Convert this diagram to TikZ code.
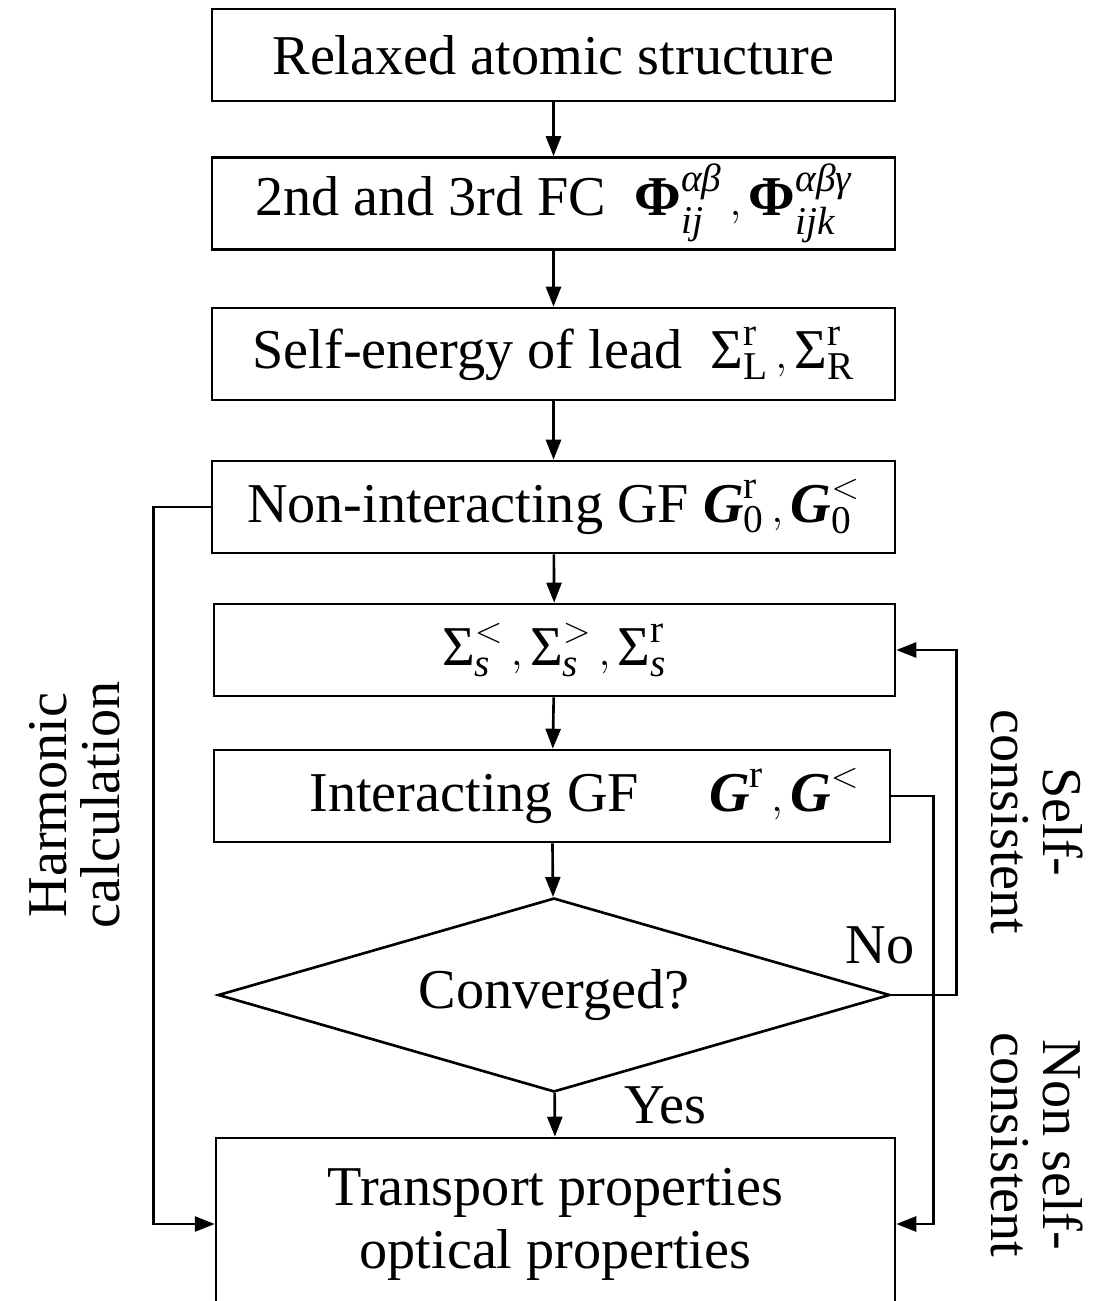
\documentclass[tikz,border=0pt]{standalone}
\usepackage{amsmath}
\usepackage{fontspec}
\setmainfont{Liberation Serif}
\usetikzlibrary{shapes.geometric,arrows.meta}
\newcommand{\rmtx}[1]{\text{\upshape #1}}
\newcommand{\ittx}[1]{\text{\itshape #1}}
\newcommand{\bitx}[1]{\text{\bfseries\itshape #1}}
\tikzset{
  stepbox/.style={draw, line width=1.5pt, minimum width=13.66cm, minimum height=1.84cm,
    inner sep=0pt, font=\fontsize{32}{38}\selectfont},
  decide/.style={draw, diamond, aspect=3.46, line width=1.5pt, minimum width=13.44cm,
    minimum height=3.88cm, inner sep=0pt, font=\fontsize{32}{38}\selectfont},
  side/.style={align=center, font=\fontsize{32}{30}\selectfont},
  flow/.style={line width=1.5pt, -{Triangle[length=0.4cm,width=0.3cm]}}
}
\begin{document}
\begin{tikzpicture}[x=0.02cm,y=-0.02cm]
  \useasboundingbox (0,0) rectangle (1102,1301);
  \clip (0,0) rectangle (1102,1301);
  \draw
    (553.5,55) node[stepbox] (relax){Relaxed atomic structure}
    (553.5,203.5) node[stepbox] (fc){2nd and 3rd FC\ \ $\text{\bfseries Φ}_{\ittx{ij}}^{\ittx{αβ}}\,,\text{\bfseries Φ}_{\ittx{ijk}}^{\ittx{αβγ}}$}
    (553.5,354) node[stepbox] (lead){Self-energy of lead\ \ $\rmtx{Σ}_{\rmtx{L}}^{\rmtx{r}}\,,\rmtx{Σ}_{\rmtx{R}}^{\rmtx{r}}$}
    (553.5,507) node[stepbox] (nonint){Non-interacting GF $\bitx{G}_{\rmtx{0}}^{\rmtx{r}}\,,\bitx{G}_{\rmtx{0}}^{<}$}
    (554.5,650) node[stepbox, minimum width=13.62cm] (sigma){$\rmtx{Σ}_{\ittx{s}}^{<}\,,\rmtx{Σ}_{\ittx{s}}^{>}\,,\rmtx{Σ}_{\ittx{s}}^{\rmtx{r}}$}
    (552,796) node[stepbox, minimum width=13.52cm] (inter){\hspace*{1.3cm}Interacting GF\quad\ $\bitx{G}^{\rmtx{r}}\,,\bitx{G}^{<}$}
    (554,995) node[decide] (conv){Converged?}
    (555.5,1224) node[stepbox, minimum width=13.58cm, minimum height=3.44cm, align=center,
      font=\fontsize{32}{36}\selectfont] (trans){Transport properties\\optical properties};
  % labels
  \node[side, rotate=90] (harm) at (75,805) {Harmonic\\calculation};
  \node[side, rotate=-90] (self) at (1037,822) {Self-\\consistent};
  \node[side, rotate=-90] (nonself) at (1037,1145) {Non self-\\consistent};
  \node[font=\fontsize{32}{38}\selectfont] (no) at (880,945) {No};
  \node[font=\fontsize{32}{38}\selectfont] (yes) at (665,1105) {Yes};
  \begin{scope}[flow]
    \draw (relax) -- (fc);
    \draw (fc) -- (lead);
    \draw (lead) -- (nonint);
    \draw (nonint) -- (sigma);
    \draw (sigma) -- (inter);
    \draw (inter) -- (conv);
    \draw (conv) -- (trans);
    \draw (nonint.west) -- ++(-57,0) |- (trans.west);
    \draw (inter.east) -- ++(42,0) |- (trans.east);
    \draw (conv.east) -- ++(65,0) |- (sigma.east);
  \end{scope}
\end{tikzpicture}
\end{document}
